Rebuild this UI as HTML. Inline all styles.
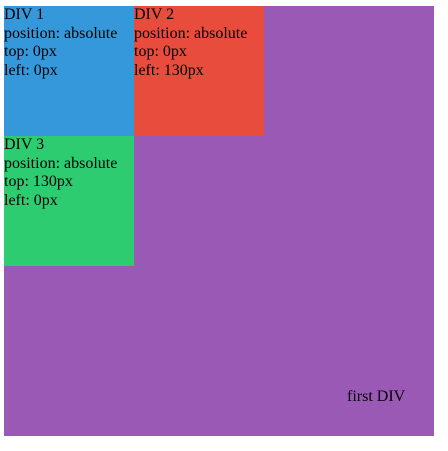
<!DOCTYPE html>
<html><head><style>
body{margin:0;width:448px;height:451px;background:#fff;font-family:"Liberation Serif",serif;font-size:16px;line-height:18.5px;color:#000}
.p{position:absolute;left:4px;top:6px;width:430px;height:430px;background:#9b59b6}
.b{position:absolute;width:130px;height:130px}
.t{position:absolute;left:343px;top:382px}
</style></head><body>
<div class="p">
<div class="b" style="left:0;top:0;background:#3498db">DIV 1<br>position: absolute<br>top: 0px<br>left: 0px</div>
<div class="b" style="left:130px;top:0;background:#e74c3c">DIV 2<br>position: absolute<br>top: 0px<br>left: 130px</div>
<div class="b" style="left:0;top:130px;background:#2ecc71">DIV 3<br>position: absolute<br>top: 130px<br>left: 0px</div>
<div class="t">first DIV</div>
</div>
</body></html>
